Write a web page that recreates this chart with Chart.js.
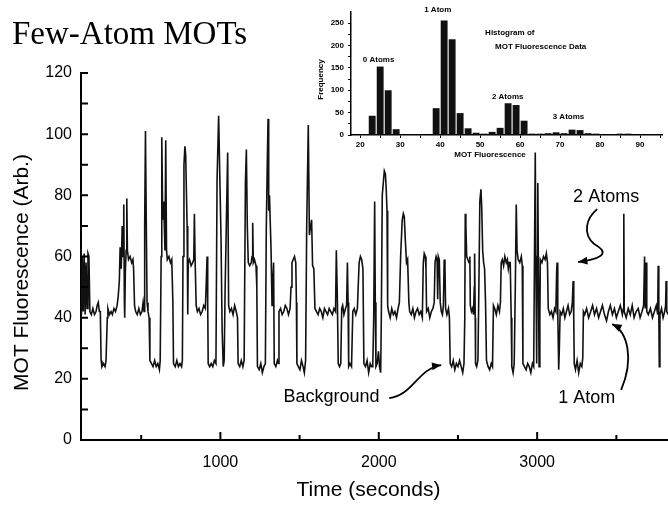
<!DOCTYPE html>
<html>
<head>
<meta charset="utf-8">
<script src="https://cdn.jsdelivr.net/npm/chart.js@4.4.1/dist/chart.umd.min.js"></script>
<style>
  body { margin: 0; background: #fff; }
  #wrap { position: relative; width: 668px; height: 507px; }
  #main { position: absolute; left: 0; top: 0; }
  #inset { position: absolute; left: 310px; top: 0; }
</style>
</head>
<body>
<div id="wrap">
  <canvas id="main" width="668" height="507"></canvas>
  <canvas id="inset" width="358" height="170"></canvas>
</div>
<script>
// main trace: time (s) and MOT fluorescence (arb.)
const timeSec = [
  123,128,134,140,146,152,158,164,170,176,185,195,
  205,215,222,229,236,242,247,252,262,272,278,286,
  290,300,310,318,328,338,348,355,362,367,374,380,
  386,390,394,396,400,405,409,413,420,430,440,448,
  452,458,465,475,485,495,505,512,518,522,527,532,
  537,543,550,555,565,575,585,595,605,615,620,626,
  630,636,642,650,655,660,665,675,685,693,700,704,
  715,725,735,
  745,755,760,764,770,776,781,786,790,794,797,805,
  815,825,832,836,840,847,855,865,875,885,895,905,
  910,916,920,923,932,942,952,962,972,979,989,996,
  1004,1011,1018,1024,1030,1036,1046,1052,1060,1070,1080,1090,
  1100,1108,1112,1122,1132,1142,1150,1158,1164,1170,1176,1185,
  1195,1200,1204,1208,1215,1225,1230,1234,1245,1255,1265,1275,
  1284,1290,1296,1301,1305,1310,1315,1320,1326,1331,1336,
  1340,1350,1360,1366,1370,1380,1390,1400,1410,1420,1430,1440,
  1446,1452,1460,1468,1476,1480,1483,1492,1502,1512,1522,1530,
  1538,1545,1555,1562,1570,1576,1582,1590,1597,1607,1617,1627,
  1637,1647,1657,1667,1677,1687,1697,1707,1717,1727,1732,1738,
  1744,1752,1760,1766,1772,1780,1790,1797,1802,1806,1810,1818,
  1828,1836,1845,1855,1865,1870,1876,1884,1892,1900,1906,1916,
  1926,1936,1946,1955,
  1962,1968,1974,1978,1982,1990,1998,2005,2012,2016,2022,2030,
  2035,2042,2047,2052,2056,2062,2072,2082,2092,2102,2112,2122,
  2130,2138,2148,2155,2161,2167,2175,2182,2190,2195,2205,2215,
  2225,2235,2245,2255,2265,2275,2281,2287,2294,2298,2302,2312,
  2322,2332,2342,2350,2355,2362,2368,2372,2376,2382,2388,2395,
  2402,2408,2413,2418,2422,2430,2440,2446,2451,2460,2470,2480,
  2490,2500,2510,2520,2530,2538,2543,
  2546,2550,2555,2562,2570,2575,2578,2585,2592,2598,2603,2605,
  2609,2611,2618,2626,2632,2638,2645,2650,2656,2662,2668,2674,
  2680,2690,2700,2710,2718,2724,2732,2742,2752,2762,2768,2773,
  2780,2788,2796,2805,2812,2818,2824,2830,2836,2840,2848,2855,
  2862,2868,2873,2880,2890,2900,2906,2910,2920,2930,2940,2950,
  2960,2970,2978,2983,2988,2993,2997,3000,3004,3008,3012,3017,
  3020,3030,3040,3050,3058,3065,3070,3080,3090,3100,3110,3118,
  3123,3126,3130,3136,3140,3145,3155,3165,3175,3185,3195,3205,
  3215,3222,3227,3231,3234,3242,3252,3262,3272,3282,3288,
  3292,3300,3312,3325,3338,3350,3362,3375,3388,3400,3412,3425,
  3438,3450,3462,3475,3488,3500,3512,3525,3538,3544,3547,3550,
  3562,3575,3588,3600,3612,3625,3638,3650,3662,3672,3678,3682,
  3688,3692,3702,3715,3728,3740,3752,3761,3764,3768,3771,3775,
  3785,3795,3805,3811,3814,3818,3828,3840
];
const fluor = [
  41,60,42,61,41,58,43,61,60,42,41,43,
  41,42,44,45,42,42,26,24,25,24,26,40,
  43,41,42,41,43,42,44,47,52,63,56,70,
  60,77,45,40,55,62,79,62,59,60,58,59,
  56,44,42,41,43,41,42,45,42,70,101,72,
  45,42,40,26,25,24,26,24,25,23,26,60,
  99,72,78,62,98,62,59,60,58,59,45,25,
  24,26,24,
  25,24,26,60,90,96,93,80,70,41,58,59,
  57,58,59,74,60,44,42,43,41,42,44,43,
  50,60,45,25,24,25,24,26,25,85,106,87,
  66,36,24,26,50,66,94,44,42,43,41,44,
  42,40,25,24,26,24,26,84,95,70,58,57,
  58,60,71,58,59,57,50,24,23,25,22,24,
  25,70,90,105,75,80,71,62,44,52,58,
  25,24,26,25,42,43,41,42,44,43,41,43,
  50,58,59,60,58,45,25,24,23,26,24,22,
  26,70,103,67,70,72,57,56,43,42,41,43,
  42,40,43,42,41,43,42,41,43,42,62,48,
  25,24,25,43,44,41,43,44,58,45,24,25,
  24,42,43,41,43,50,58,60,59,56,25,24,
  26,22,25,24,
  24,40,78,45,24,25,29,24,22,40,80,85,
  88,87,82,75,44,42,40,43,41,42,40,43,
  45,60,72,74,73,66,58,59,45,42,41,43,
  40,42,43,41,42,40,58,61,60,56,42,43,
  40,42,43,45,58,60,59,46,60,59,45,42,
  41,44,59,56,43,41,43,40,25,24,26,23,
  25,24,26,24,22,25,40,
  74,70,60,59,58,60,44,42,43,41,50,61,
  40,25,24,26,50,78,82,76,62,58,56,45,
  26,24,23,25,24,44,43,41,44,42,45,58,
  59,57,60,58,59,56,58,58,40,24,22,25,
  50,77,62,59,58,60,57,25,24,23,25,24,
  22,25,24,60,94,50,25,60,84,55,24,40,
  59,58,60,59,61,58,43,41,42,40,43,42,
  55,58,42,23,30,42,41,43,40,42,44,41,
  42,45,52,40,25,23,26,22,25,24,27,
  42,41,43,40,42,44,41,43,40,42,44,41,
  39,42,44,41,43,40,42,44,41,43,74,42,
  40,43,41,44,40,42,43,40,42,44,60,43,
  58,42,41,43,40,42,44,41,57,42,24,41,
  43,40,42,44,52,42,41,43
];
const xTickLabels = [1000, 2000, 3000];
const xMinorTicks = [500, 1500, 2500, 3500];
const yTickLabels = [0, 20, 40, 60, 80, 100, 120];
const yTickMarks = [10, 20, 30, 40, 50, 60, 70, 80, 90, 100, 110, 120];

// inset histogram: bin centres (2-unit bins) and counts
const binCenters = [19,21,23,25,27,29,31,33,35,37,39,41,43,45,47,49,51,53,55,57,59,61,63,65,67,69,71,73,75,77,79,81,83,85,87,89,91,93,95];
const binCounts  = [1,2,43,153,100,13,1,2,2,1,60,256,214,49,15,5,3,7,16,71,67,32,3,3,4,6,4,12,11,4,3,1,2,3,3,1,1,2,2];
const insetXTicks = [20, 25, 30, 35, 40, 45, 50, 55, 60, 65, 70, 75, 80, 85, 90, 95];
const insetYTicks = [0, 25, 50, 75, 100, 125, 150, 175, 200, 225, 250];

const sans = '"Liberation Sans", Arial, sans-serif';

// annotation text + curved arrows, in data units (time, fluorescence)
const notes = [
  { text: 'Background', t: 1398, v: 14.1 },
  { text: '1 Atom', t: 3133, v: 13.7 },
  { text: '2 Atoms', t: 3227, v: 79.5 }
];
const arrows = [
  [[2066, 13.7], [2212, 14.4], [2249, 23.5], [2394, 24.5]],
  [[3530, 16.4], [3612, 26.2], [3574, 35.3], [3474, 37.9]],
  [[3379, 75.5], [3310, 72.6], [3284, 67.4], [3360, 64.1], [3448, 61.5], [3436, 59.5], [3259, 58.2]]
];

function arrowHead(ctx, x, y, ang, size) {
  ctx.beginPath();
  ctx.moveTo(x, y);
  ctx.lineTo(x - size * Math.cos(ang - 0.4), y - size * Math.sin(ang - 0.4));
  ctx.lineTo(x - size * Math.cos(ang + 0.4), y - size * Math.sin(ang + 0.4));
  ctx.closePath();
  ctx.fill();
}

const mainDecor = {
  id: 'mainDecor',
  afterDraw(chart) {
    const { ctx, chartArea: a } = chart;
    const x = chart.scales.x, y = chart.scales.y;
    ctx.save();
    ctx.strokeStyle = '#000';
    ctx.fillStyle = '#000';
    ctx.lineWidth = 2;
    // inward tick marks
    ctx.beginPath();
    xTickLabels.forEach(v => { const p = x.getPixelForValue(v); ctx.moveTo(p, a.bottom); ctx.lineTo(p, a.bottom - 8); });
    xMinorTicks.forEach(v => { const p = x.getPixelForValue(v); ctx.moveTo(p, a.bottom); ctx.lineTo(p, a.bottom - 5); });
    yTickMarks.forEach(v => { const p = y.getPixelForValue(v); ctx.moveTo(a.left, p); ctx.lineTo(a.left + 7, p); });
    ctx.stroke();

    // title + axis titles
    ctx.textBaseline = 'alphabetic';
    ctx.textAlign = 'left';
    ctx.font = '33px "Liberation Serif", "Times New Roman", serif';
    ctx.fillText('Few-Atom MOTs', 12, 44);
    ctx.font = '21px ' + sans;
    ctx.textAlign = 'center';
    ctx.textBaseline = 'middle';
    ctx.fillText('Time (seconds)', (a.left + a.right) / 2 - 6, a.bottom + 50);
    ctx.save();
    ctx.translate(a.left - 59, (a.top + a.bottom) / 2 + 16);
    ctx.rotate(-Math.PI / 2);
    ctx.fillText('MOT Fluorescence (Arb.)', 0, 0);
    ctx.restore();

    // annotations
    ctx.font = '18px ' + sans;
    ctx.textAlign = 'left';
    notes.forEach(n => ctx.fillText(n.text, x.getPixelForValue(n.t), y.getPixelForValue(n.v)));
    ctx.lineWidth = 1.8;
    arrows.forEach(pts => {
      const p = pts.map(q => [x.getPixelForValue(q[0]), y.getPixelForValue(q[1])]);
      ctx.beginPath();
      ctx.moveTo(p[0][0], p[0][1]);
      for (let i = 1; i + 2 < p.length; i += 3) {
        ctx.bezierCurveTo(p[i][0], p[i][1], p[i + 1][0], p[i + 1][1], p[i + 2][0], p[i + 2][1]);
      }
      ctx.stroke();
      const e = p[p.length - 1], c = p[p.length - 2];
      arrowHead(ctx, e[0], e[1], Math.atan2(e[1] - c[1], e[0] - c[0]), 10);
    });
    ctx.restore();
  }
};

new Chart(document.getElementById('main'), {
  type: 'line',
  data: {
    datasets: [{
      data: timeSec.map((t, i) => ({ x: t, y: fluor[i] })),
      borderColor: '#111',
      borderWidth: 1.6,
      pointRadius: 0,
      tension: 0,
      fill: false
    }]
  },
  options: {
    responsive: false,
    animation: false,
    devicePixelRatio: 1,
    layout: { padding: { top: 73, right: 0, left: 0, bottom: 0 } },
    plugins: { legend: { display: false }, tooltip: { enabled: false } },
    scales: {
      x: {
        type: 'linear',
        min: 120,
        max: 3826,
        grid: { display: false, drawTicks: false },
        border: { display: true, color: '#000', width: 2 },
        ticks: { color: '#000', font: { family: sans, size: 16 }, padding: 13, callback: v => String(v) },
        afterBuildTicks: s => { s.ticks = xTickLabels.map(v => ({ value: v })); },
        afterFit: s => { s.height = 67; }
      },
      y: {
        min: 0,
        max: 120,
        grid: { display: false, drawTicks: false },
        border: { display: true, color: '#000', width: 2 },
        ticks: { color: '#000', font: { family: sans, size: 16 }, padding: 9 },
        afterBuildTicks: s => { s.ticks = yTickLabels.map(v => ({ value: v })); },
        afterFit: s => { s.width = 81; }
      }
    }
  },
  plugins: [mainDecor]
});

// inset labels in histogram units
const insetNotes = [
  { text: '0 Atoms', x: 24.6, y: 168, align: 'center' },
  { text: '1 Atom', x: 39.4, y: 280, align: 'center' },
  { text: '2 Atoms', x: 56.9, y: 85, align: 'center' },
  { text: '3 Atoms', x: 72.1, y: 40, align: 'center' },
  { text: 'Histogram of', x: 51.25, y: 228, align: 'left' },
  { text: 'MOT Fluorescence Data', x: 53.75, y: 197, align: 'left' }
];

const insetDecor = {
  id: 'insetDecor',
  afterDraw(chart) {
    const { ctx, chartArea: a } = chart;
    const x = chart.scales.x, y = chart.scales.y;
    ctx.save();
    ctx.fillStyle = '#000';
    ctx.font = 'bold 8px ' + sans;
    ctx.textBaseline = 'middle';
    insetNotes.forEach(n => {
      ctx.textAlign = n.align;
      ctx.fillText(n.text, x.getPixelForValue(n.x), y.getPixelForValue(n.y));
    });
    ctx.textAlign = 'center';
    ctx.fillText('MOT Fluorescence', a.left + 139, a.bottom + 20);
    ctx.translate(a.left - 30, (a.top + a.bottom) / 2 + 6);
    ctx.rotate(-Math.PI / 2);
    ctx.fillText('Frequency', 0, 0);
    ctx.restore();
  }
};

new Chart(document.getElementById('inset'), {
  type: 'bar',
  data: {
    datasets: [{
      data: binCenters.map((c, i) => ({ x: c, y: binCounts[i] })),
      backgroundColor: '#111',
      borderWidth: 0,
      barPercentage: 0.86,
      categoryPercentage: 1
    }]
  },
  options: {
    responsive: false,
    animation: false,
    devicePixelRatio: 1,
    layout: { padding: { top: 12, right: 6, left: 0, bottom: 0 } },
    plugins: { legend: { display: false }, tooltip: { enabled: false } },
    scales: {
      x: {
        type: 'linear',
        min: 17.7,
        max: 95.5,
        offset: false,
        grid: { display: true, offset: false, drawOnChartArea: false, drawTicks: true, tickLength: 3, color: '#000' },
        border: { display: true, color: '#000', width: 1.5 },
        ticks: { color: '#000', font: { family: sans, size: 8, weight: 'bold' }, padding: 2, maxRotation: 0, autoSkip: false,
                 callback: v => (v % 10 === 0 ? String(v) : '') },
        afterBuildTicks: s => { s.ticks = insetXTicks.map(v => ({ value: v })); },
        afterFit: s => { s.height = 35; }
      },
      y: {
        min: 0,
        max: 275,
        grid: { display: true, drawOnChartArea: false, drawTicks: true, tickLength: 3, color: '#000' },
        border: { display: true, color: '#000', width: 1.5 },
        ticks: { color: '#000', font: { family: sans, size: 8, weight: 'bold' }, padding: 4, autoSkip: false,
                 callback: v => (v % 50 === 0 ? String(v) : '') },
        afterBuildTicks: s => { s.ticks = insetYTicks.map(v => ({ value: v })); },
        afterFit: s => { s.width = 41; }
      }
    }
  },
  plugins: [insetDecor]
});
</script>
</body>
</html>
